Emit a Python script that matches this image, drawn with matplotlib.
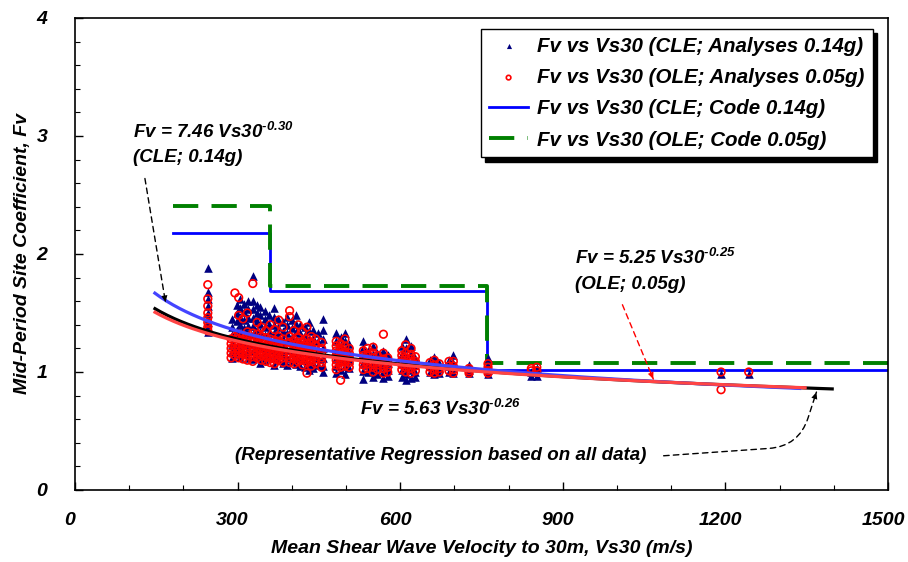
import matplotlib
matplotlib.use("Agg")
import matplotlib.pyplot as plt
from matplotlib.ticker import MultipleLocator
from matplotlib.transforms import ScaledTranslation
import numpy as np

plt.rcParams['font.family'] = ['Liberation Sans', 'DejaVu Sans']
plt.rcParams['font.weight'] = 'bold'
plt.rcParams['font.style'] = 'italic'
plt.rcParams['mathtext.default'] = 'regular'

# ---------------- data ----------------
# CLE analyses (0.14g) : triangles, grouped by Vs30 column
cle_vs = [245, 290, 298, 305, 312, 320, 328, 335, 342, 350, 358, 367, 375, 383,
          391, 400, 408, 416, 424, 432, 440, 448, 457, 482, 490, 498, 506, 532,
          540, 550, 558, 568, 577, 603, 610, 620, 628, 655, 663, 672, 690, 698,
          727, 762, 842, 852, 1192, 1243]
cle_fv = [
    [1.88, 1.68, 1.62, 1.56, 1.50, 1.46, 1.42, 1.38, 1.34],
    [1.45, 1.38, 1.31, 1.24, 1.18, 1.12],
    [1.57, 1.50, 1.43, 1.36, 1.29, 1.22, 1.16],
    [1.62, 1.54, 1.47, 1.40, 1.33, 1.26, 1.19, 1.13],
    [1.58, 1.51, 1.44, 1.37, 1.30, 1.23, 1.16],
    [1.60, 1.53, 1.46, 1.39, 1.32, 1.25, 1.18, 1.12],
    [1.81, 1.60, 1.53, 1.46, 1.39, 1.32, 1.25, 1.18, 1.11],
    [1.57, 1.50, 1.43, 1.36, 1.29, 1.22, 1.15],
    [1.55, 1.48, 1.41, 1.34, 1.27, 1.20, 1.13, 1.08],
    [1.52, 1.45, 1.38, 1.31, 1.24, 1.17, 1.10],
    [1.48, 1.41, 1.34, 1.27, 1.20, 1.13],
    [1.54, 1.47, 1.40, 1.33, 1.26, 1.19, 1.12, 1.06],
    [1.45, 1.38, 1.31, 1.24, 1.17, 1.10],
    [1.42, 1.35, 1.28, 1.21, 1.14, 1.08],
    [1.47, 1.40, 1.33, 1.26, 1.19, 1.12, 1.06],
    [1.44, 1.37, 1.30, 1.23, 1.16, 1.09],
    [1.48, 1.41, 1.34, 1.27, 1.20, 1.13, 1.07],
    [1.40, 1.33, 1.26, 1.19, 1.12, 1.05],
    [1.38, 1.31, 1.24, 1.17, 1.10, 1.04],
    [1.42, 1.35, 1.28, 1.21, 1.14, 1.07, 1.02],
    [1.36, 1.29, 1.22, 1.15, 1.08, 1.03],
    [1.33, 1.26, 1.19, 1.12, 1.06],
    [1.45, 1.36, 1.28, 1.20, 1.12, 1.05, 1.00],
    [1.33, 1.26, 1.19, 1.12, 1.05, 0.99],
    [1.30, 1.23, 1.16, 1.09, 1.02],
    [1.33, 1.26, 1.19, 1.12, 1.05, 0.98],
    [1.24, 1.17, 1.10, 1.03],
    [1.26, 1.20, 1.14, 1.08, 1.01, 0.94],
    [1.18, 1.12, 1.06, 1.00],
    [1.22, 1.15, 1.08, 1.02, 0.96],
    [1.16, 1.10, 1.04, 0.98],
    [1.18, 1.12, 1.06, 1.00, 0.95],
    [1.14, 1.08, 1.02, 0.97],
    [1.22, 1.15, 1.08, 1.02, 0.96],
    [1.28, 1.20, 1.12, 1.05, 0.98, 0.93],
    [1.22, 1.15, 1.08, 1.02, 0.95],
    [1.12, 1.06, 1.00, 0.96],
    [1.10, 1.05, 1.00],
    [1.13, 1.07, 1.02, 0.98],
    [1.08, 1.03, 0.99],
    [1.10, 1.05, 1.00],
    [1.14, 1.08, 1.03, 0.99],
    [1.06, 1.02, 0.99],
    [1.12, 1.06, 1.02, 0.98],
    [1.00, 0.97],
    [1.03, 0.97],
    [0.98],
    [0.98],
]

# OLE analyses (0.05g) : open circles
ole_vs = [245, 288, 295, 302, 310, 318, 328, 336, 344, 352, 360, 368, 376, 384,
          396, 404, 412, 420, 428, 436, 444, 455, 482, 490, 498, 506, 532, 540,
          550, 558, 569, 577, 603, 610, 620, 628, 655, 663, 672, 690, 698, 727,
          762, 842, 852, 1192, 1243]
ole_fv = [
    [1.74, 1.62, 1.56, 1.50, 1.46, 1.42, 1.38, 1.35],
    [1.28, 1.24, 1.20, 1.16, 1.12],
    [1.67, 1.30, 1.26, 1.22, 1.18, 1.14],
    [1.63, 1.48, 1.32, 1.28, 1.24, 1.20, 1.16, 1.12],
    [1.45, 1.31, 1.27, 1.23, 1.19, 1.15, 1.11],
    [1.50, 1.34, 1.30, 1.26, 1.22, 1.18, 1.14, 1.10],
    [1.75, 1.33, 1.29, 1.25, 1.21, 1.17, 1.13, 1.09],
    [1.42, 1.32, 1.28, 1.24, 1.20, 1.16, 1.12],
    [1.38, 1.30, 1.26, 1.22, 1.18, 1.14, 1.10],
    [1.35, 1.29, 1.25, 1.21, 1.17, 1.13, 1.09],
    [1.40, 1.28, 1.24, 1.20, 1.16, 1.12, 1.08],
    [1.36, 1.27, 1.23, 1.19, 1.15, 1.11, 1.07],
    [1.44, 1.30, 1.26, 1.22, 1.18, 1.14, 1.10],
    [1.38, 1.28, 1.24, 1.20, 1.16, 1.12, 1.08],
    [1.52, 1.47, 1.30, 1.25, 1.20, 1.16, 1.12, 1.08],
    [1.35, 1.27, 1.23, 1.19, 1.15, 1.11, 1.07],
    [1.40, 1.29, 1.25, 1.21, 1.17, 1.13, 1.09],
    [1.34, 1.26, 1.22, 1.18, 1.14, 1.10, 1.06],
    [1.38, 1.28, 1.24, 1.20, 1.16, 1.12, 1.08, 0.99],
    [1.30, 1.25, 1.21, 1.17, 1.13, 1.09, 1.05],
    [1.28, 1.23, 1.19, 1.15, 1.11, 1.07],
    [1.25, 1.20, 1.16, 1.12, 1.08, 1.04],
    [1.26, 1.22, 1.18, 1.14, 1.10, 1.06, 1.02],
    [1.24, 1.20, 1.16, 1.12, 1.08, 1.04, 0.93],
    [1.28, 1.22, 1.17, 1.13, 1.09, 1.05],
    [1.20, 1.16, 1.12, 1.08, 1.04],
    [1.18, 1.14, 1.10, 1.06, 1.02],
    [1.20, 1.15, 1.11, 1.07, 1.03],
    [1.21, 1.16, 1.12, 1.08, 1.04, 1.00],
    [1.14, 1.10, 1.06, 1.02],
    [1.32, 1.16, 1.11, 1.07, 1.03, 0.99],
    [1.12, 1.08, 1.04, 1.00],
    [1.18, 1.14, 1.10, 1.06, 1.02],
    [1.23, 1.16, 1.12, 1.08, 1.04, 1.00],
    [1.20, 1.15, 1.11, 1.07, 1.03, 0.99],
    [1.13, 1.09, 1.05, 1.01],
    [1.08, 1.04, 1.00],
    [1.10, 1.06, 1.02, 0.99],
    [1.07, 1.03, 1.00],
    [1.09, 1.05, 1.01],
    [1.09, 1.05, 1.02, 0.99],
    [1.03, 1.01, 0.99],
    [1.07, 1.04, 1.01, 0.99],
    [1.03, 1.01],
    [1.04, 1.01],
    [1.00, 0.85],
    [1.00],
]

# Code step functions
code_cle_vs = [180, 360, 360, 760, 760, 1500]
code_cle_fv = [2.18, 2.18, 1.69, 1.69, 1.02, 1.02]
code_ole_vs = [180, 360, 360, 760, 760, 1500]
code_ole_fv = [2.41, 2.41, 1.73, 1.73, 1.08, 1.08]

# Regressions Fv = a * Vs30^b  (coefficients as printed on the chart)
reg_cle = (7.46, -0.30, 145, 1340)
reg_ole = (5.25, -0.25, 145, 1350)
reg_all = (5.63, -0.26, 145, 1400)

x_ticks = [0, 300, 600, 900, 1200, 1500]
y_ticks = [0, 1, 2, 3, 4]

# ---------------- figure ----------------
fig = plt.figure(figsize=(9.08, 5.62), dpi=100)
ax = fig.add_axes([75/908, 72/562, 813/908, 472/562])

FS = 14

# code lines
ax.plot(code_cle_vs, code_cle_fv, color='#0000ff', lw=2.0, zorder=2,
        label='Fv vs Vs30 (CLE; Code 0.14g)')
ax.plot(code_ole_vs, code_ole_fv, color='#008000', lw=2.8, zorder=2,
        dashes=(6.5, 3.4), label='Fv vs Vs30 (OLE; Code 0.05g)')

# scatter
cx = np.concatenate([[v] * len(f) for v, f in zip(cle_vs, cle_fv)])
cy = np.concatenate(cle_fv)
ox = np.concatenate([[v] * len(f) for v, f in zip(ole_vs, ole_fv)])
oy = np.concatenate(ole_fv)
ax.scatter(cx, cy, marker='^', s=38, color='#000080', linewidths=0, zorder=3,
           label='Fv vs Vs30 (CLE; Analyses 0.14g)')
ax.scatter(ox, oy, marker='o', s=30, facecolors='none', edgecolors='#ff0000',
           linewidths=1.2, zorder=4, label='Fv vs Vs30 (OLE; Analyses 0.05g)')

# regressions
for (a, b, x0, x1), col, z in [(reg_all, '#000000', 5), (reg_cle, '#4444ff', 6),
                               (reg_ole, '#ff4444', 7)]:
    xs = np.linspace(x0, x1, 200)
    ax.plot(xs, a * xs ** b, color=col, lw=2.3, zorder=z, solid_capstyle='butt')

# axes formatting
ax.set_xlim(0, 1500)
ax.set_ylim(0, 4)
ax.set_xticks(x_ticks)
ax.set_yticks(y_ticks)
ax.xaxis.set_minor_locator(MultipleLocator(100))
ax.yaxis.set_minor_locator(MultipleLocator(0.2))
ax.tick_params(which='both', direction='in', top=False, right=False)
ax.tick_params(which='major', length=6, width=1)
ax.tick_params(which='minor', length=3.5, width=0.8)
ax.tick_params(axis='y', which='major', pad=20, labelsize=FS)
ax.tick_params(axis='x', which='major', pad=16, labelsize=FS)
for lbl in ax.get_xticklabels():
    lbl.set_transform(lbl.get_transform() + ScaledTranslation(-5/100, 0, fig.dpi_scale_trans))
for sp in ax.spines.values():
    sp.set_linewidth(1.2)
ax.set_xlabel('Mean Shear Wave Velocity to 30m, Vs30 (m/s)', fontsize=FS,
              fontweight='bold', style='italic', labelpad=8)
ax.set_ylabel('Mid-Period Site Coefficient, Fv', fontsize=FS,
              fontweight='bold', style='italic', labelpad=4)

# legend
h, l = ax.get_legend_handles_labels()
order = [2, 3, 0, 1]
leg = ax.legend([h[i] for i in order], [l[i] for i in order], loc='upper right',
                bbox_to_anchor=(0.981, 0.977), borderaxespad=0, fontsize=14.8,
                frameon=True, fancybox=False, edgecolor='black',
                shadow={'color': 'black', 'alpha': 1, 'ox': 3, 'oy': -3},
                handlelength=1.9, handletextpad=0.45, labelspacing=0.6,
                borderpad=0.38, markerscale=0.6)
leg.get_frame().set_linewidth(1.0)
leg.set_zorder(10)

# annotations
tkw = dict(fontsize=13.5, fontweight='bold', style='italic', zorder=8)
ax.text(107, 2.98, 'Fv = 7.46 Vs30$^{\u20100.30}$', ha='left', va='baseline', **tkw)
ax.text(107, 2.78, '(CLE; 0.14g)', ha='left', va='baseline', **tkw)
ax.text(923, 1.915, 'Fv = 5.25 Vs30$^{\u20100.25}$', ha='left', va='baseline', **tkw)
ax.text(923, 1.70, '(OLE; 0.05g)', ha='left', va='baseline', **tkw)
ax.text(674, 0.635, 'Fv = 5.63 Vs30$^{\u20100.26}$', ha='center', va='baseline', **tkw)
ax.text(674, 0.254, '(Representative Regression based on all data)', ha='center',
        va='baseline', **tkw)

def dashed_arrow(start, end, color, conn='arc3'):
    ax.annotate('', xy=end, xytext=start,
                arrowprops=dict(arrowstyle='-', color=color, lw=1.0, ls=(0, (4, 3)),
                                connectionstyle=conn, shrinkA=0, shrinkB=0), zorder=9)
    ax.annotate('', xy=end, xytext=start,
                arrowprops=dict(arrowstyle='-|>,head_length=0.5,head_width=0.22',
                                color=color, lw=0, connectionstyle=conn,
                                shrinkA=0, shrinkB=0), zorder=9)

dashed_arrow((129, 2.64), (167, 1.59), 'black')
dashed_arrow((1010, 1.57), (1067, 0.94), '#ff0000')
dashed_arrow((1086, 0.29), (1368, 0.83), 'black',
             conn='angle,angleA=4,angleB=72,rad=30')

fig.savefig('out.png', dpi=100)
